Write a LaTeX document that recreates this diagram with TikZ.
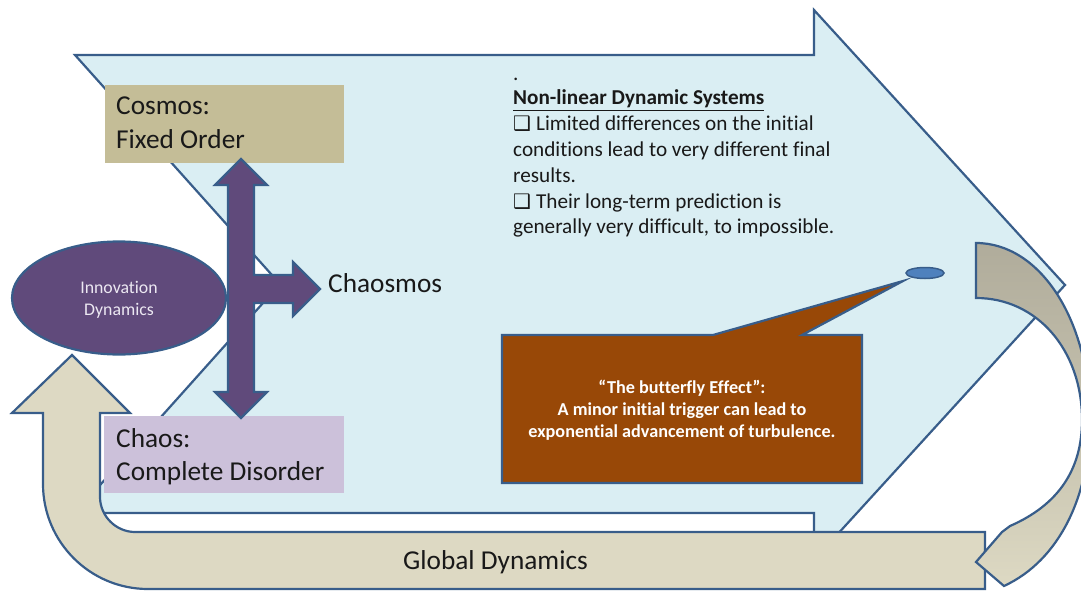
\documentclass[tikz,border=0pt]{standalone}
\usepackage{fontspec}
\setmainfont[Ligatures=NoCommon]{Carlito}
\newfontfamily\dejavu{DejaVu Sans}
\usetikzlibrary{shapes.geometric}
\definecolor{edgeC}{HTML}{385D8A}
\definecolor{blueF}{HTML}{DAEEF3}
\definecolor{beigeF}{HTML}{DDD9C3}
\definecolor{grayF}{HTML}{B0AC9B}
\definecolor{cosmosF}{HTML}{C4BD97}
\definecolor{chaosF}{HTML}{CCC1DA}
\definecolor{purpleF}{HTML}{604A7B}
\definecolor{brownF}{HTML}{984807}
\definecolor{dotF}{HTML}{4F81BD}
\definecolor{innerT}{HTML}{ECE8F2}
\tikzset{
  outl/.style={draw=edgeC, line width=2.2pt, line join=miter},
  big/.style={font=\fontsize{27.3}{30}\selectfont, inner sep=0pt, text=black!90},
  body/.style={font=\fontsize{21.2}{25}\selectfont, inner sep=0pt, text=black!90, anchor=base west},
  callt/.style={font=\bfseries\fontsize{18.2}{22}\selectfont, text=white, inner sep=0pt, anchor=base},
  innt/.style={font=\fontsize{17.8}{22}\selectfont, text=innerT, inner sep=0pt, anchor=base},
}
\newcommand{\bx}{{\dejavu\fontsize{20}{20}\selectfont ❑}\hspace{5pt}}
\begin{document}
\begin{tikzpicture}[x=1pt,y=-1pt]
\useasboundingbox (0,0) rectangle (1081,591);
% big light blue arrow
\draw[outl, fill=blueF] (75,55) -- (814,55) -- (814,10) -- (1065,285) -- (814,560) -- (814,513) -- (75,513) -- (280,284) -- cycle;
% beige U arrow
\draw[outl, fill=beigeF] (985,532) -- (135,532) .. controls (116,532) and (100,516) .. (100,497)
  -- (100,413) -- (130,413) -- (72,355) -- (12,413) -- (43,413) -- (43,484)
  .. controls (43,542) and (90,589) .. (148,589) -- (985,589) -- cycle;
\node[big, anchor=base west] (global) at (403,569) {Global Dynamics};
% right curved arrow
\draw[outl, top color=grayF, bottom color=beigeF, middle color=grayF!55!beigeF]
  (976,243) .. controls (1040,243) and (1090,320) .. (1090,420)
  .. controls (1090,495) and (1060,560) .. (1004,586)
  -- (976,562) -- (1002,532) -- (1010,526)
  .. controls (1058,505) and (1082,470) .. (1082,420)
  .. controls (1082,350) and (1037,298) .. (976,298) -- cycle;
% cosmos / chaos boxes
\fill[cosmosF] (105,85) rectangle (344,163);
\fill[chaosF] (104,416) rectangle (344,493);
\node[big, anchor=base west] (cos1) at (116,115) {Cosmos:};
\node[big, anchor=base west] (cos2) at (116,148) {Fixed Order};
\node[big, anchor=base west] (cha1) at (116,447) {Chaos:};
\node[big, anchor=base west] (cha2) at (116,480) {Complete Disorder};
% innovation ellipse
\node[ellipse, outl, fill=purpleF, minimum width=214pt, minimum height=113pt, inner sep=0pt] (innov) at (119,298) {};
\node[innt] (inn1) at (119,293) {Innovation};
\node[innt] (inn2) at (119,315) {Dynamics};
% cross arrow
\draw[outl, fill=purpleF] (241,159) -- (267,185) -- (254,185) -- (254,275) -- (293,275) -- (293,262)
  -- (320,289) -- (293,316) -- (293,303) -- (254,303) -- (254,392) -- (267,392) -- (241,418)
  -- (215,392) -- (228,392) -- (228,185) -- (215,185) -- cycle;
\node[big, anchor=base west] (chaosmos) at (328,292) {Chaosmos};
% text block
\node[body] (t0) at (513,81) {.};
\node[body] (t1) at (513,105) {\bfseries\underline{Non-linear Dynamic Systems}};
\node[body] (t2) at (513,131) {\bx Limited differences on the initial};
\node[body] (t3) at (513,156) {conditions lead to very different final};
\node[body] (t4) at (513,182) {results.};
\node[body] (t5) at (513,208) {\bx Their long-term prediction is};
\node[body] (t6) at (513,233) {generally very difficult, to impossible.};
% small blue ellipse
\draw[draw=edgeC, line width=1.5pt, fill=dotF] (925,273) ellipse [x radius=19, y radius=5.5];
% callout
\draw[outl, fill=brownF] (502,335) -- (713,335) -- (903,281) -- (802,335) -- (862,335) -- (862,483) -- (502,483) -- cycle;
\node[callt] (bf1) at (682,393) {“The butterfly Effect”:};
\node[callt] (bf2) at (682,415) {A minor initial trigger can lead to};
\node[callt] (bf3) at (682,437) {exponential advancement of turbulence.};
\end{tikzpicture}
\end{document}
